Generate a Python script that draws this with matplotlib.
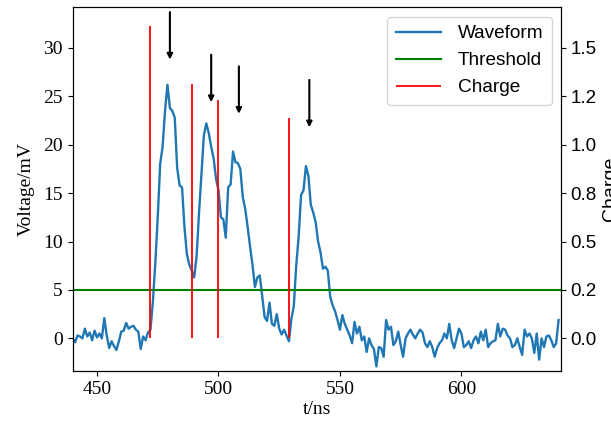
import numpy as np
import matplotlib
matplotlib.use('Agg')
import matplotlib.pyplot as plt
from matplotlib.ticker import MultipleLocator, FormatStrFormatter

# 波形数据（每 1 ns 一个采样点，从 440 ns 开始）
t_start = 440
voltage = [
    0.0, -0.4, 0.3, 0.2, 0.0, 1.0, 0.2, 0.6, -0.2, 0.8,      # 440-449
    0.1, 0.5, 0.0, 2.1, 0.3, -1.0, -0.3, -0.8, -1.2, -0.3,   # 450-459
    0.7, 0.8, 1.6, 1.0, 1.2, 1.3, 0.9, 0.7, -1.1, 0.2,       # 460-469
    -0.2, 0.6, 0.9, 3.8, 7.8, 12.5, 18.0, 19.8, 23.5, 26.2,  # 470-479
    23.8, 23.5, 22.8, 17.6, 15.8, 15.6, 11.5, 8.7, 7.6, 7.0,  # 480-489
    6.3, 8.5, 13.0, 17.0, 21.0, 22.2, 21.2, 19.8, 18.6, 16.5,  # 490-499
    15.3, 12.5, 12.3, 10.4, 15.6, 15.9, 19.3, 18.2, 18.1, 17.5,  # 500-509
    14.6, 13.4, 11.5, 9.5, 7.6, 5.3, 6.3, 6.5, 4.3, 2.2,     # 510-519
    1.8, 3.7, 1.5, 1.3, 2.5, 1.0, 0.4, 0.9, 0.3, -0.3,       # 520-529
    2.0, 3.3, 7.5, 10.5, 14.8, 15.3, 17.8, 16.8, 13.8, 13.0,  # 530-539
    12.0, 10.0, 8.9, 7.2, 7.4, 7.0, 4.3, 3.4, 2.8, 1.9,      # 540-549
    0.9, 2.4, 1.5, 0.9, 0.3, -0.5, 1.7, 0.5, 1.2, -0.2,      # 550-559
    0.2, -1.4, 0.0, -0.7, -1.1, -2.9, -0.9, -1.0, -1.9, 1.9,  # 560-569
    0.9, 1.2, -0.7, -0.3, 0.7, -0.7, -1.9, 0.0, 0.5, 0.9,    # 570-579
    0.4, 0.0, 0.5, 0.9, 0.6, -0.5, -0.9, -0.3, -0.9, -1.9,   # 580-589
    -1.0, -0.5, -0.2, 0.5, 0.0, 1.5, -0.2, -1.0, 0.0, 1.0,   # 590-599
    0.5, -0.9, -0.7, -0.3, -1.0, -0.2, 0.2, -0.5, 0.7, -0.2,  # 600-609
    0.9, -0.9, -0.5, -0.3, -0.2, 1.5, 0.2, 1.0, 0.9, 0.3,    # 610-619
    0.0, -0.9, -0.7, 0.0, -0.9, -1.7, 0.9, 0.2, 0.5, 0.0,    # 620-629
    -1.5, 0.5, -2.2, 0.0, -0.9, 0.2, 0.3, -0.2, -0.9, -0.5,  # 630-639
    1.9,                                                     # 640
]
time_ns = t_start + np.arange(len(voltage))

threshold = 5

# 电荷（右轴）
charge_t = [472, 489, 500, 529]
charge_q = [1.613, 1.313, 1.231, 1.137]

# 箭头（光子到达时刻标记）
arrow_t = [480, 497, 508.4, 537.4]
arrow_top = [33.7, 29.3, 28.1, 26.7]
arrow_tip = [28.8, 24.4, 23.2, 21.8]

serif = 'Liberation Serif'
sans = 'Liberation Sans'

fig = plt.figure(figsize=(6.11, 4.24), dpi=100)
ax = fig.add_axes([0.119, 0.125, 0.7992, 0.8578])
ax2 = ax.twinx()

l1, = ax.plot(time_ns, voltage, color='#1f77b4', lw=1.7, label='Waveform')
l2 = ax.axhline(threshold, color='green', lw=1.5, label='Threshold')

for x, y0, y1 in zip(arrow_t, arrow_top, arrow_tip):
    ax.annotate('', xy=(x, y1), xytext=(x, y0),
                arrowprops=dict(arrowstyle='-|>', color='black', lw=1.5,
                                mutation_scale=8, shrinkA=0, shrinkB=0))

l3 = ax2.vlines(charge_t, 0, charge_q, colors='red', lw=1.3, label='Charge')

ax.set_xlim(440, 641)
ax.set_ylim(-3.37, 34.2)
ax2.set_ylim(-3.37 / 20, 34.2 / 20)

ax.xaxis.set_major_locator(MultipleLocator(50))
ax.yaxis.set_major_locator(MultipleLocator(5))
ax2.yaxis.set_major_locator(MultipleLocator(0.25))
ax2.yaxis.set_major_formatter(FormatStrFormatter('%.1f'))

for lab in ax.get_xticklabels() + ax.get_yticklabels():
    lab.set_fontfamily(serif)
    lab.set_fontsize(14)
for lab in ax2.get_yticklabels():
    lab.set_fontfamily(sans)
    lab.set_fontsize(13.5)

ax.set_xlabel('t/ns', fontfamily=serif, fontsize=14, labelpad=2)
ax.set_ylabel('Voltage/mV', fontfamily=serif, fontsize=14)
ax.yaxis.set_label_coords(-0.077, 0.5)
ax2.set_ylabel('Charge', fontfamily=sans, fontsize=14)
ax2.yaxis.set_label_coords(1.083, 0.5)

ax2.legend([l1, l2, l3], ['Waveform', 'Threshold', 'Charge'],
           loc='upper right', prop={'family': sans, 'size': 13.7},
           handlelength=2.37, handletextpad=0.88, borderpad=0.44)

plt.savefig('out.png', dpi=100)
